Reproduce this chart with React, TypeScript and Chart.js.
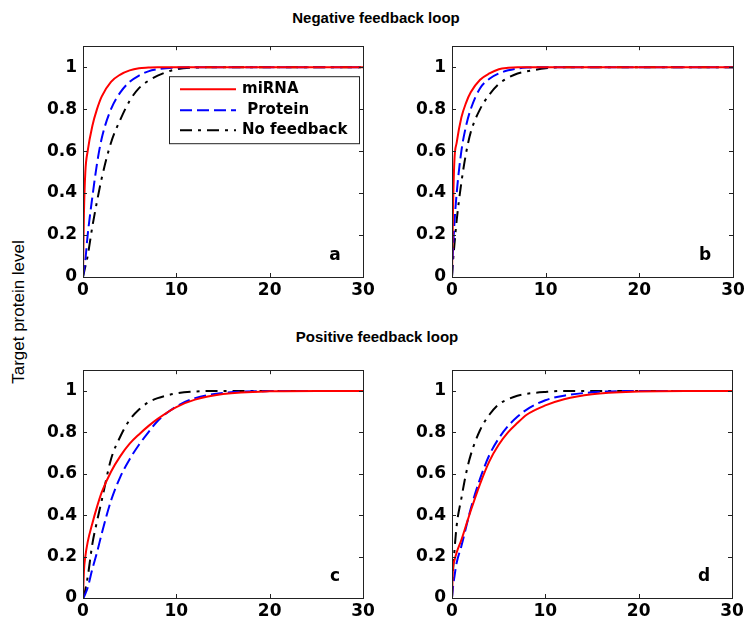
import React, { useEffect, useRef } from 'react';
import { Chart, registerables } from 'chart.js';

Chart.register(...registerables);

// ---------- data ----------
const TIME = [0, 0.1, 0.25, 0.5, 1, 1.5, 2, 3, 4, 5, 6, 7, 8, 10, 12, 15, 20, 25, 30];
const SERIES_LABELS = ['miRNA', ' Protein', 'No feedback'];
const X_TICKS = [0, 10, 20, 30];
const X_TICK_LABELS = ['0', '10', '20', '30'];
const Y_TICKS = [0, 0.2, 0.4, 0.6, 0.8, 1];
const Y_TICK_LABELS = ['0', '0.2', '0.4', '0.6', '0.8', '1'];
const PANEL_LETTERS = ['a', 'b', 'c', 'd'];
const ROW_TITLES = ['Negative feedback loop', 'Positive feedback loop'];
const Y_AXIS_TITLE = 'Target protein level';

const A_MIRNA = [0, 0.3, 0.5, 0.6, 0.72, 0.8, 0.86, 0.93, 0.965, 0.985, 0.995, 0.998, 1, 1, 1, 1, 1, 1, 1];
const A_PROTEIN = [0, 0.03, 0.08, 0.2, 0.38, 0.54, 0.66, 0.8, 0.88, 0.93, 0.96, 0.98, 0.99, 0.998, 1, 1, 1, 1, 1];
const A_NOFB = [0, 0.02, 0.05, 0.1, 0.24, 0.36, 0.47, 0.64, 0.75, 0.84, 0.9, 0.935, 0.96, 0.99, 0.998, 1, 1, 1, 1];

const B_MIRNA = [0, 0.3, 0.55, 0.64, 0.76, 0.83, 0.88, 0.94, 0.97, 0.99, 0.997, 1, 1, 1, 1, 1, 1, 1, 1];
const B_PROTEIN = [0, 0.12, 0.25, 0.4, 0.6, 0.72, 0.8, 0.9, 0.945, 0.97, 0.985, 0.994, 0.998, 1, 1, 1, 1, 1, 1];
const B_NOFB = [0, 0.07, 0.15, 0.27, 0.45, 0.59, 0.69, 0.8, 0.87, 0.92, 0.95, 0.97, 0.98, 0.995, 1, 1, 1, 1, 1];

const C_MIRNA = [0, 0.13, 0.2, 0.27, 0.36, 0.44, 0.51, 0.61, 0.685, 0.745, 0.79, 0.83, 0.865, 0.922, 0.958, 0.985, 0.998, 1, 1];
const C_PROTEIN = [0, 0.005, 0.02, 0.05, 0.14, 0.22, 0.31, 0.47, 0.585, 0.67, 0.74, 0.8, 0.855, 0.925, 0.965, 0.99, 0.999, 1, 1];
const C_NOFB = [0, 0.01, 0.04, 0.1, 0.26, 0.37, 0.47, 0.67, 0.78, 0.86, 0.91, 0.945, 0.965, 0.988, 0.997, 1, 1, 1, 1];

const D_MIRNA = [0, 0.14, 0.18, 0.22, 0.28, 0.35, 0.42, 0.55, 0.66, 0.74, 0.8, 0.845, 0.885, 0.93, 0.96, 0.984, 0.997, 1, 1];
const D_PROTEIN = [0, 0.05, 0.1, 0.17, 0.25, 0.34, 0.43, 0.575, 0.69, 0.77, 0.83, 0.875, 0.91, 0.955, 0.977, 0.993, 1, 1, 1];
const D_NOFB = [0, 0.12, 0.22, 0.35, 0.48, 0.6, 0.69, 0.81, 0.885, 0.935, 0.96, 0.977, 0.986, 0.995, 1, 1, 1, 1, 1];

// ---------- styling ----------
const SERIES_STYLES = [
  { color: '#ff0000', dash: [] as number[] },
  { color: '#0000ff', dash: [12, 5] },
  { color: '#000000', dash: [12, 6, 3, 6] },
];
const TICK_FONT = { family: 'DejaVu Sans', weight: 'bold' as const, size: 17 };
const AXIS_COLOR = '#222';

const PANELS = [
  { series: [A_MIRNA, A_PROTEIN, A_NOFB], left: 30, top: 30, width: 353, height: 274, yw: 53, legend: true },
  { series: [B_MIRNA, B_PROTEIN, B_NOFB], left: 400, top: 30, width: 353, height: 274, yw: 52, legend: false },
  { series: [C_MIRNA, C_PROTEIN, C_NOFB], left: 30, top: 354, width: 353, height: 271, yw: 53, legend: false },
  { series: [D_MIRNA, D_PROTEIN, D_NOFB], left: 400, top: 354, width: 352, height: 271, yw: 52, legend: false },
];

const boxPlugin = {
  id: 'matlabBox',
  afterDraw(chart: any, _args: any, opts: any) {
    const { ctx, chartArea: a, scales } = chart;
    ctx.save();
    ctx.strokeStyle = AXIS_COLOR;
    ctx.lineWidth = 1;
    ctx.setLineDash([]);
    ctx.strokeRect(Math.round(a.left) + 0.5, Math.round(a.top) + 0.5, Math.round(a.right - a.left), Math.round(a.bottom - a.top));
    const tl = 4;
    ctx.beginPath();
    scales.x.ticks.forEach((t: any) => {
      const px = Math.round(scales.x.getPixelForValue(t.value)) + 0.5;
      ctx.moveTo(px, a.bottom); ctx.lineTo(px, a.bottom - tl);
      ctx.moveTo(px, a.top); ctx.lineTo(px, a.top + tl);
    });
    scales.y.ticks.forEach((t: any) => {
      const py = Math.round(scales.y.getPixelForValue(t.value)) + 0.5;
      ctx.moveTo(a.left, py); ctx.lineTo(a.left + tl, py);
      ctx.moveTo(a.right, py); ctx.lineTo(a.right - tl, py);
    });
    ctx.stroke();

    ctx.fillStyle = '#000';
    ctx.font = 'bold 17px "DejaVu Sans"';
    ctx.textAlign = 'center';
    ctx.textBaseline = 'middle';
    ctx.fillText(opts.letter, a.right - 28, a.bottom - 21);

    if (opts.legend) {
      const bx = a.left + 86, by = a.top + 30, bw = 190, bh = 67;
      ctx.fillStyle = '#fff';
      ctx.fillRect(bx, by, bw, bh);
      ctx.strokeStyle = AXIS_COLOR;
      ctx.lineWidth = 1;
      ctx.strokeRect(bx + 0.5, by + 0.5, bw, bh);
      const rows = [13, 34, 54];
      chart.data.datasets.forEach((ds: any, i: number) => {
        const y = by + rows[i];
        ctx.strokeStyle = ds.borderColor;
        ctx.lineWidth = 2;
        ctx.setLineDash(ds.borderDash || []);
        ctx.beginPath();
        ctx.moveTo(a.left + 97, y);
        ctx.lineTo(a.left + 153, y);
        ctx.stroke();
        ctx.setLineDash([]);
        ctx.fillStyle = '#000';
        ctx.font = 'bold 15px "DejaVu Sans"';
        ctx.textAlign = 'left';
        ctx.textBaseline = 'middle';
        ctx.fillText(ds.label, a.left + 159, y);
      });
    }
    ctx.restore();
  },
};

function Panel({ index }: { index: number }) {
  const ref = useRef<HTMLCanvasElement>(null);
  const p = PANELS[index];
  useEffect(() => {
    if (!ref.current) return;
    const chart = new Chart(ref.current, {
      type: 'line',
      data: {
        datasets: p.series.map((vals, i) => ({
          label: SERIES_LABELS[i],
          data: TIME.map((t, j) => ({ x: t, y: vals[j] })),
          borderColor: SERIES_STYLES[i].color,
          borderDash: SERIES_STYLES[i].dash,
          borderWidth: 2,
          pointRadius: 0,
          fill: false,
          cubicInterpolationMode: 'monotone' as const,
        })),
      },
      options: {
        animation: false,
        responsive: false,
        maintainAspectRatio: false,
        devicePixelRatio: 1,
        layout: { padding: { top: 14, right: 20, left: 0, bottom: 0 } },
        scales: {
          x: {
            type: 'linear',
            min: 0,
            max: 30,
            afterBuildTicks: (s: any) => { s.ticks = X_TICKS.map((v) => ({ value: v })); },
            afterFit: (s: any) => { s.height = 27; },
            grid: { display: false, drawTicks: false },
            border: { display: true, color: AXIS_COLOR, width: 1 },
            ticks: {
              font: TICK_FONT,
              color: '#000',
              padding: 3,
              maxRotation: 0,
              autoSkip: false,
              callback: (_v: any, i: number) => X_TICK_LABELS[i],
            },
          },
          y: {
            type: 'linear',
            min: 0,
            max: 1.1,
            afterBuildTicks: (s: any) => { s.ticks = Y_TICKS.map((v) => ({ value: v })); },
            afterFit: (s: any) => { s.width = p.yw; },
            grid: { display: false, drawTicks: false },
            border: { display: true, color: AXIS_COLOR, width: 1 },
            ticks: {
              font: TICK_FONT,
              color: '#000',
              padding: 6,
              autoSkip: false,
              callback: (_v: any, i: number) => Y_TICK_LABELS[i],
            },
          },
        },
        plugins: {
          legend: { display: false },
          tooltip: { enabled: false },
          matlabBox: { letter: PANEL_LETTERS[index], legend: p.legend },
        } as any,
      },
      plugins: [boxPlugin],
    } as any);
    return () => chart.destroy();
  }, []);
  return (
    <canvas
      ref={ref}
      width={p.width}
      height={p.height}
      style={{ position: 'absolute', left: p.left, top: p.top, width: p.width, height: p.height }}
    />
  );
}

export default function App() {
  const titleStyle: React.CSSProperties = {
    position: 'absolute',
    width: 300,
    textAlign: 'center',
    font: 'bold 15px "Liberation Sans", Arial, sans-serif',
    lineHeight: '18px',
    color: '#000',
  };
  return (
    <div style={{ position: 'absolute', left: 0, top: 0, width: 745, height: 619, background: '#fff', overflow: 'hidden' }}>
      <div style={{ ...titleStyle, left: 226, top: 9 }}>{ROW_TITLES[0]}</div>
      <div style={{ ...titleStyle, left: 227, top: 328 }}>{ROW_TITLES[1]}</div>
      <div
        style={{
          position: 'absolute',
          left: 19 - 100,
          top: 312 - 10,
          width: 200,
          height: 20,
          lineHeight: '20px',
          textAlign: 'center',
          font: '17px "Liberation Sans", Arial, sans-serif',
          color: '#000',
          transform: 'rotate(-90deg)',
        }}
      >
        {Y_AXIS_TITLE}
      </div>
      {PANELS.map((_, i) => (
        <Panel key={i} index={i} />
      ))}
    </div>
  );
}
